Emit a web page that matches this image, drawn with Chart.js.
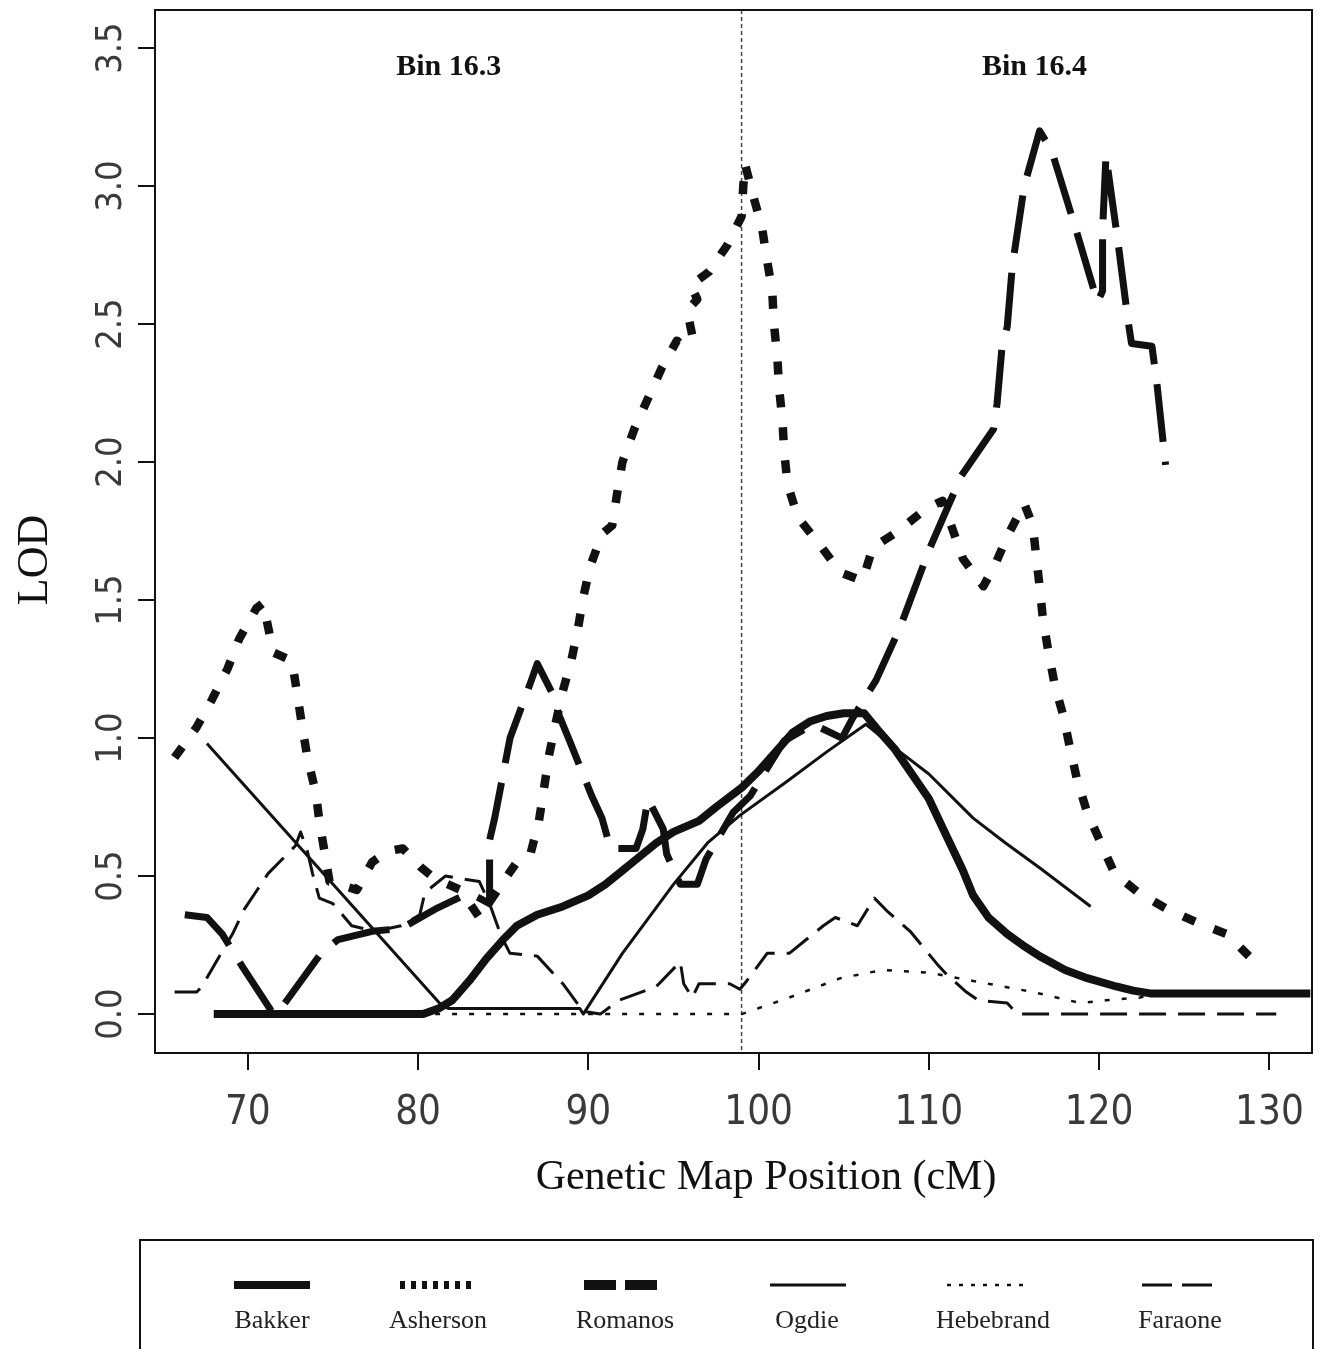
<!DOCTYPE html>
<html>
<head>
<meta charset="utf-8">
<title>LOD - Genetic Map Position</title>
<script src="https://cdn.jsdelivr.net/npm/chart.js@4.4.0/dist/chart.umd.min.js"></script>
<style>
  html, body { margin: 0; padding: 0; background: #fff; }
  #lod { display: block; }
</style>
</head>
<body>
<canvas id="lod" width="1322" height="1349"></canvas>
<script>
// axis ticks
const xTicks = [70, 80, 90, 100, 110, 120, 130];
const yTicks = [0, 0.5, 1, 1.5, 2, 2.5, 3, 3.5];
const yTickLabels = ['0.0', '0.5', '1.0', '1.5', '2.0', '2.5', '3.0', '3.5'];

// bins
const binLabels = ['Bin 16.3', 'Bin 16.4'];
const binCenters = [81.8, 116.2];
const binBoundary = 99;

// [cM, LOD] per study
const bakker = [[68, 0], [80.3, 0], [81.2, 0.02], [82, 0.05], [83, 0.12], [84, 0.2], [85, 0.27], [85.8, 0.32],
  [87, 0.36], [88.5, 0.39], [90, 0.43], [91, 0.47], [92, 0.52], [93, 0.57], [94, 0.62], [95, 0.66], [96.5, 0.7],
  [97.5, 0.75], [99, 0.82], [100, 0.88], [101, 0.95], [102, 1.02], [103, 1.06], [104, 1.08], [105, 1.09],
  [106.2, 1.09], [107, 1.03], [108, 0.96], [109, 0.87], [110, 0.78], [111, 0.65], [112, 0.52], [112.6, 0.43],
  [113.5, 0.35], [114.6, 0.29], [115.5, 0.25], [116.5, 0.21], [118, 0.16], [119.3, 0.13], [121, 0.1],
  [122, 0.085], [123, 0.075], [132.4, 0.075]];

const asherson = [[65.7, 0.93], [67, 1.04], [67.9, 1.14], [68.8, 1.25], [69.5, 1.36], [70.5, 1.47], [70.9, 1.49],
  [71.5, 1.31], [72.6, 1.28], [72.9, 1.16], [73.2, 1.04], [73.5, 0.93], [74, 0.8], [74.2, 0.7], [74.5, 0.59],
  [74.8, 0.48], [76.4, 0.45], [77.3, 0.55], [78.2, 0.59], [79.1, 0.6], [80.2, 0.53], [81, 0.49], [82.5, 0.45],
  [83.6, 0.35], [85, 0.48], [85.8, 0.55], [86.6, 0.58], [87.1, 0.7], [87.4, 0.82], [87.7, 0.94], [88.1, 1.06],
  [88.5, 1.17], [89, 1.28], [89.4, 1.4], [89.7, 1.51], [90.1, 1.62], [90.8, 1.74], [91.4, 1.77], [91.7, 1.89],
  [92, 2.0], [92.7, 2.12], [93.5, 2.23], [94.3, 2.34], [95.2, 2.44], [95.6, 2.42], [96.1, 2.46], [95.8, 2.55],
  [96.4, 2.59], [96, 2.64], [97.1, 2.69], [98.2, 2.79], [99, 2.89], [99.1, 3.0], [99.2, 3.08], [99.7, 2.96],
  [100.2, 2.85], [100.5, 2.73], [100.8, 2.62], [100.9, 2.5], [101.1, 2.38], [101.2, 2.27], [101.4, 2.15],
  [101.5, 2.04], [101.7, 1.92], [102.3, 1.8], [103.6, 1.7], [104.8, 1.6], [106.1, 1.57], [106.7, 1.69],
  [108.2, 1.75], [109.8, 1.83], [110.8, 1.86], [112, 1.65], [113.2, 1.55], [113.9, 1.63], [114.6, 1.73],
  [115.6, 1.85], [116.1, 1.77], [116.3, 1.66], [116.5, 1.55], [116.7, 1.43], [117, 1.32], [117.4, 1.19],
  [117.9, 1.08], [118.3, 0.96], [118.7, 0.85], [119.3, 0.73], [120.1, 0.62], [120.9, 0.51], [122.3, 0.44],
  [124, 0.38], [125.8, 0.33], [127.5, 0.29], [128.8, 0.21]];

const romanos = [[66.3, 0.36], [67.6, 0.35], [68.5, 0.29], [69.7, 0.17], [71.4, 0.01], [71.7, 0], [72.3, 0.05],
  [74.3, 0.22], [75.3, 0.27], [77.3, 0.3], [79, 0.31], [81, 0.38], [83, 0.44], [84.2, 0.4], [84.2, 0.63],
  [84.5, 0.71], [85.4, 1.0], [86.6, 1.2], [87, 1.27], [87.9, 1.16], [88.3, 1.08], [88.9, 0.99], [90.2, 0.79],
  [90.8, 0.71], [91.3, 0.6], [92.8, 0.6], [93.2, 0.67], [93.5, 0.78], [94.4, 0.67], [94.6, 0.58], [95.4, 0.47],
  [96.4, 0.47], [96.9, 0.56], [98.5, 0.73], [99.5, 0.79], [101.5, 0.99], [103.2, 1.05], [104.9, 1.0],
  [105.5, 1.07], [106.9, 1.21], [108.3, 1.4], [110, 1.68], [111.9, 1.95], [113.8, 2.12], [114, 2.21],
  [114.3, 2.42], [114.6, 2.49], [114.9, 2.71], [115.6, 3.0], [116.5, 3.2], [117.2, 3.13], [118.6, 2.85],
  [119.9, 2.58], [120.2, 2.62], [120.2, 2.84], [120.4, 3.11], [121.1, 2.8], [121.7, 2.51], [121.9, 2.43],
  [123.1, 2.42], [123.4, 2.28], [123.9, 1.99]];

const ogdie = [[67.6, 0.98], [81.4, 0.03], [81.8, 0.02], [89.5, 0.02], [89.7, 0], [92, 0.22], [95, 0.47],
  [97, 0.62], [98.9, 0.72], [101.6, 0.84], [104, 0.95], [106.3, 1.05], [108.3, 0.95], [110, 0.87],
  [112.6, 0.71], [114.5, 0.62], [116.5, 0.53], [119.5, 0.39]];

const hebebrand = [[81, 0], [99, 0], [101.8, 0.06], [104.8, 0.13], [107.3, 0.16], [110, 0.15], [112.6, 0.12],
  [116.1, 0.08], [118.9, 0.04], [120.4, 0.05], [122.4, 0.06], [123, 0.07]];

const faraone = [[65.7, 0.08], [67, 0.08], [67.3, 0.1], [69.1, 0.29], [69.8, 0.38], [71.2, 0.51], [72.8, 0.61],
  [73.1, 0.66], [73.5, 0.59], [73.8, 0.51], [74.2, 0.42], [75, 0.4], [76.1, 0.32], [77.5, 0.3], [79, 0.32],
  [80.1, 0.36], [80.4, 0.44], [81.6, 0.5], [83.6, 0.48], [84.2, 0.4], [84.9, 0.28], [85.4, 0.22], [87, 0.21],
  [88.5, 0.11], [89.7, 0.01], [90.7, 0], [91.8, 0.05], [94, 0.1], [95.4, 0.19], [95.6, 0.11], [96.1, 0.06],
  [96.5, 0.11], [98.3, 0.11], [98.9, 0.09], [99.3, 0.12], [100.5, 0.22], [101.8, 0.22], [103.8, 0.32],
  [104.5, 0.35], [105.8, 0.32], [106.8, 0.42], [107.6, 0.37], [108.9, 0.3], [110.5, 0.18], [111.1, 0.14],
  [112.2, 0.08], [112.9, 0.05], [114.6, 0.04], [115.2, 0], [130.4, 0]];

const seriesNames = ['Bakker', 'Asherson', 'Romanos', 'Ogdie', 'Hebebrand', 'Faraone'];
const seriesData = [bakker, asherson, romanos, ogdie, hebebrand, faraone];

// line looks (plot, then legend sample)
const lineWidths = [8, 8.5, 7, 3, 2.5, 3];
const lineDashes = [[], [13, 20], [58, 20], [], [5, 12], [27, 12]];
const legendWidths = [8, 8, 10, 3, 2.5, 3];
const legendDashes = [[], [5, 6], [32, 9], [], [4, 8], [30, 10]];
const legendCenters = [272, 438, 622, 808, 985, 1180];
const legendLabelCenters = [272, 438, 625, 807, 993, 1180];

const INK = '#111';
const tickFont = "'Liberation Sans Narrow', 'DejaVu Sans Condensed', 'Liberation Sans', sans-serif";
const serif = "'Liberation Serif', 'DejaVu Serif', serif";

const decor = {
  id: 'decor',
  beforeDatasetsDraw(chart) {
    const {ctx, chartArea: a, scales: {x}} = chart;
    const px = x.getPixelForValue(binBoundary);
    ctx.save();
    ctx.strokeStyle = '#444';
    ctx.lineWidth = 1.5;
    ctx.setLineDash([4, 3]);
    ctx.beginPath();
    ctx.moveTo(px, a.top);
    ctx.lineTo(px, a.bottom);
    ctx.stroke();
    ctx.restore();
  },
  afterDraw(chart) {
    const {ctx, chartArea: a, scales: {x, y}} = chart;
    ctx.save();
    // frame
    ctx.strokeStyle = INK;
    ctx.lineWidth = 2;
    ctx.strokeRect(a.left, a.top, a.right - a.left, a.bottom - a.top);

    // bin labels
    ctx.fillStyle = INK;
    ctx.font = 'bold 30px ' + serif;
    ctx.textAlign = 'center';
    ctx.textBaseline = 'middle';
    binLabels.forEach((t, i) => ctx.fillText(t, x.getPixelForValue(binCenters[i]), y.getPixelForValue(3.43)));

    // axis titles
    ctx.font = '42px ' + serif;
    ctx.fillText('Genetic Map Position (cM)', 766, 1178);
    ctx.save();
    ctx.translate(35, 560);
    ctx.rotate(-Math.PI / 2);
    ctx.font = '44px ' + serif;
    ctx.fillText('LOD', 0, 0);
    ctx.restore();

    // legend box
    ctx.lineWidth = 2;
    ctx.strokeRect(140, 1240, 1173, 140);
    chart.data.datasets.forEach((ds, i) => {
      const cx = legendCenters[i];
      ctx.save();
      ctx.strokeStyle = INK;
      ctx.lineWidth = legendWidths[i];
      ctx.setLineDash(legendDashes[i]);
      ctx.beginPath();
      ctx.moveTo(cx - 38, 1285);
      ctx.lineTo(cx + 38, 1285);
      ctx.stroke();
      ctx.restore();
      ctx.fillStyle = '#222';
      ctx.font = '26px ' + serif;
      ctx.fillText(ds.label, legendLabelCenters[i], 1321);
    });
    ctx.restore();
  }
};

new Chart(document.getElementById('lod'), {
  type: 'line',
  data: {
    datasets: seriesNames.map((name, i) => ({
      label: name,
      data: seriesData[i].map(p => ({x: p[0], y: p[1]})),
      borderColor: INK,
      borderWidth: lineWidths[i],
      borderDash: lineDashes[i],
      borderJoinStyle: 'round',
      fill: false,
      pointRadius: 0,
      tension: 0
    }))
  },
  options: {
    responsive: false,
    animation: false,
    layout: {padding: {left: 0, right: 10, top: 10, bottom: 0}},
    plugins: {legend: {display: false}, tooltip: {enabled: false}},
    scales: {
      x: {
        type: 'linear',
        min: 64.55,
        max: 132.5,
        afterBuildTicks: s => { s.ticks = xTicks.map(v => ({value: v})); },
        afterFit: s => { s.height = 296; s.paddingLeft = 0; s.paddingRight = 0; },
        border: {display: false},
        grid: {drawOnChartArea: false, drawTicks: true, tickLength: 17, color: INK, lineWidth: 2},
        ticks: {autoSkip: false, maxRotation: 0, padding: 20, color: '#3a3a3a', font: {family: tickFont, size: 40}}
      },
      y: {
        type: 'linear',
        min: -0.141,
        max: 3.638,
        afterBuildTicks: s => { s.ticks = yTicks.map(v => ({value: v})); },
        afterFit: s => { s.width = 155; s.paddingTop = 0; s.paddingBottom = 0; },
        border: {display: false},
        grid: {drawOnChartArea: false, drawTicks: true, tickLength: 17, color: INK, lineWidth: 2},
        ticks: {
          minRotation: 90, maxRotation: 90, crossAlign: 'center', padding: 1,
          color: '#3a3a3a', font: {family: tickFont, size: 36},
          callback: v => yTickLabels[yTicks.indexOf(v)]
        }
      }
    }
  },
  plugins: [decor]
});
</script>
</body>
</html>
